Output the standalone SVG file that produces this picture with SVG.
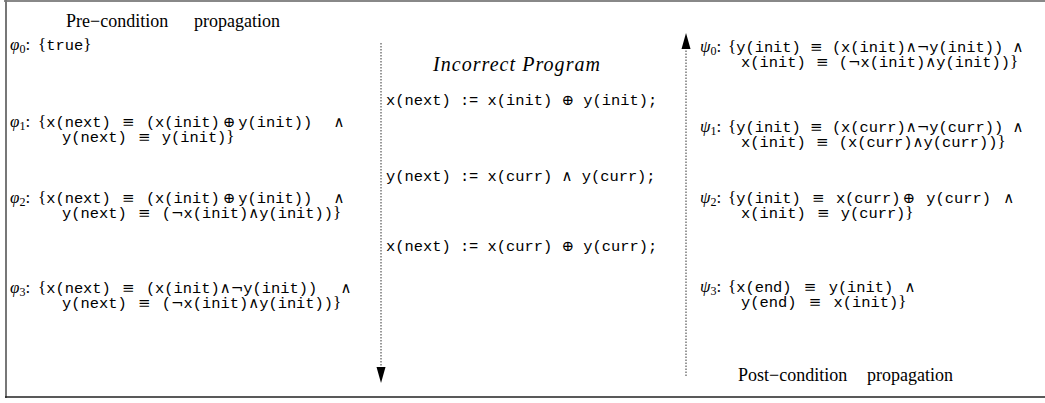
<svg xmlns="http://www.w3.org/2000/svg" width="1045" height="403" viewBox="0 0 1045 403">
<style>
.tt{font-family:"Liberation Mono","DejaVu Sans Mono",monospace;font-size:15.4px;fill:#000;white-space:pre}
.m{font-family:"DejaVu Serif","Liberation Serif",serif;font-size:15px}
.br{font-family:"Liberation Serif",serif;font-size:17px}
.rm{font-family:"Liberation Serif",serif;font-size:18px;fill:#000;white-space:pre}
.it{font-family:"Liberation Serif",serif;font-style:italic;font-size:20px;fill:#000}
.gl{font-family:"Liberation Serif","DejaVu Serif",serif;font-style:italic;font-size:17px;fill:#000}
.sub{font-size:12px;font-style:normal}
.dot{stroke:#333;stroke-width:1;stroke-dasharray:1.5 1.5;fill:none}
</style>
<g id="frame" fill="none">
<line x1="4" y1="1" x2="1045" y2="1" stroke="#888" stroke-width="2"/>
<line x1="6" y1="0" x2="6" y2="398" stroke="#777" stroke-width="2"/>
<line x1="5" y1="397" x2="1045" y2="397" stroke="#222" stroke-width="1.5"/>
</g>
<g id="connectors">
<line class="dot" x1="381" y1="43" x2="381" y2="369"/>
<path d="M376.5,367 L385.5,367 L381,383 Z" fill="#000"/>
<line class="dot" x1="686" y1="376" x2="686" y2="48"/>
<path d="M681.5,49 L690.5,49 L686,33 Z" fill="#000"/>
</g>
<g id="pre-title">
<text class="rm" x="66" y="27">Pre−condition</text>
<text class="rm" x="280" y="27" text-anchor="end">propagation</text>
</g>
<g id="phi0">
<text class="gl" x="10" y="50">φ<tspan class="sub" dy="3">0</tspan><tspan dy="-3" font-style="normal">:</tspan></text>
<text class="tt" x="38" y="50"><tspan class="br">{</tspan>true<tspan class="br">}</tspan></text>
</g>
<g id="phi1">
<text class="gl" x="10" y="127">φ<tspan class="sub" dy="3">1</tspan><tspan dy="-3" font-style="normal">:</tspan></text>
<text class="tt" x="38" y="127"><tspan class="br">{</tspan>x(next) <tspan class="m" dx="2">≡</tspan><tspan dx="2"> (x(init)</tspan><tspan class="m" dx="3">⊕</tspan><tspan dx="3">y(init))</tspan> <tspan class="m" dx="12">∧</tspan></text>
<text class="tt" x="62" y="142">y(next) <tspan class="m" dx="2">≡</tspan><tspan dx="2"> y(init)</tspan><tspan class="br">}</tspan></text>
</g>
<g id="phi2">
<text class="gl" x="10" y="203">φ<tspan class="sub" dy="3">2</tspan><tspan dy="-3" font-style="normal">:</tspan></text>
<text class="tt" x="38" y="203"><tspan class="br">{</tspan>x(next) <tspan class="m" dx="2">≡</tspan><tspan dx="2"> (x(init)</tspan><tspan class="m" dx="3">⊕</tspan><tspan dx="3">y(init))</tspan> <tspan class="m" dx="12">∧</tspan></text>
<text class="tt" x="62" y="218">y(next) <tspan class="m" dx="2">≡</tspan><tspan dx="2"> (</tspan><tspan class="m">¬</tspan>x(init)<tspan class="m">∧</tspan>y(init))<tspan class="br">}</tspan></text>
</g>
<g id="phi3">
<text class="gl" x="10" y="293">φ<tspan class="sub" dy="3">3</tspan><tspan dy="-3" font-style="normal">:</tspan></text>
<text class="tt" x="38" y="293"><tspan class="br">{</tspan>x(next) <tspan class="m" dx="2">≡</tspan><tspan dx="2"> (x(init)</tspan><tspan class="m">∧¬</tspan>y(init)) <tspan class="m" dx="14">∧</tspan></text>
<text class="tt" x="62" y="308">y(next) <tspan class="m" dx="2">≡</tspan><tspan dx="2"> (</tspan><tspan class="m">¬</tspan>x(init)<tspan class="m">∧</tspan>y(init))<tspan class="br">}</tspan></text>
</g>
<g id="program">
<text class="it" x="433" y="71" textLength="167">Incorrect Program</text>
<text class="tt" x="386" y="105">x(next) := x(init) <tspan class="m">⊕</tspan> y(init);</text>
<text class="tt" x="386" y="181">y(next) := x(curr) <tspan class="m">∧</tspan> y(curr);</text>
<text class="tt" x="386" y="251">x(next) := x(curr) <tspan class="m">⊕</tspan> y(curr);</text>
</g>
<g id="psi0">
<text class="gl" x="700" y="52">ψ<tspan class="sub" dy="3">0</tspan><tspan dy="-3" font-style="normal">:</tspan></text>
<text class="tt" x="728" y="52"><tspan class="br">{</tspan>y(init) <tspan class="m">≡</tspan> (x(init)<tspan class="m">∧¬</tspan>y(init)) <tspan class="m">∧</tspan></text>
<text class="tt" x="741" y="67">x(init) <tspan class="m" dx="1">≡</tspan><tspan dx="1"> (</tspan><tspan class="m">¬</tspan>x(init)<tspan class="m">∧</tspan>y(init))<tspan class="br">}</tspan></text>
</g>
<g id="psi1">
<text class="gl" x="700" y="132">ψ<tspan class="sub" dy="3">1</tspan><tspan dy="-3" font-style="normal">:</tspan></text>
<text class="tt" x="728" y="132"><tspan class="br">{</tspan>y(init) <tspan class="m">≡</tspan> (x(curr)<tspan class="m">∧¬</tspan>y(curr)) <tspan class="m">∧</tspan></text>
<text class="tt" x="741" y="147">x(init) <tspan class="m" dx="1">≡</tspan><tspan dx="1"> (x(curr)</tspan><tspan class="m">∧</tspan>y(curr))<tspan class="br">}</tspan></text>
</g>
<g id="psi2">
<text class="gl" x="700" y="203">ψ<tspan class="sub" dy="3">2</tspan><tspan dy="-3" font-style="normal">:</tspan></text>
<text class="tt" x="728" y="203"><tspan class="br">{</tspan>y(init) <tspan class="m" dx="2">≡</tspan><tspan dx="2"> x(curr)</tspan><tspan class="m" dx="2">⊕</tspan><tspan dx="2"> y(curr)</tspan> <tspan class="m" dx="3">∧</tspan></text>
<text class="tt" x="741" y="218">x(init) <tspan class="m" dx="2">≡</tspan><tspan dx="2"> y(curr)</tspan><tspan class="br">}</tspan></text>
</g>
<g id="psi3">
<text class="gl" x="700" y="292">ψ<tspan class="sub" dy="3">3</tspan><tspan dy="-3" font-style="normal">:</tspan></text>
<text class="tt" x="728" y="292"><tspan class="br">{</tspan>x(end) <tspan class="m" dx="3">≡</tspan><tspan dx="3"> y(init)</tspan> <tspan class="m" dx="2">∧</tspan></text>
<text class="tt" x="741" y="307">y(end) <tspan class="m" dx="3">≡</tspan><tspan dx="3"> x(init)</tspan><tspan class="br">}</tspan></text>
</g>
<g id="post-title">
<text class="rm" x="738" y="381">Post−condition</text>
<text class="rm" x="953" y="381" text-anchor="end">propagation</text>
</g>
</svg>
